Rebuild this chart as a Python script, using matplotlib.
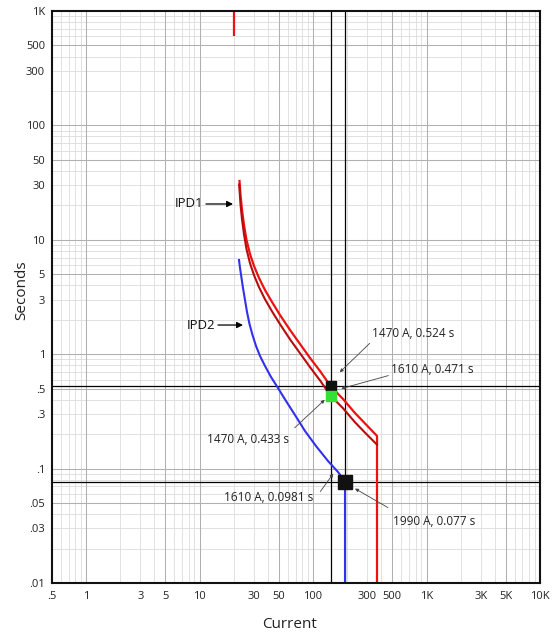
import numpy as np
import matplotlib
matplotlib.use("Agg")
import matplotlib.pyplot as plt
from matplotlib import transforms as mtrans
from matplotlib.ticker import FixedLocator, FixedFormatter, NullLocator

plt.rcParams['font.family'] = ['Open Sans', 'DejaVu Sans']

# ---------------- data ----------------
x_ticks = [0.5, 1, 3, 5, 10, 30, 50, 100, 300, 500, 1000, 3000, 5000, 10000]
x_ticklabels = ['.5', '1', '3', '5', '10', '30', '50', '100', '300', '500', '1K', '3K', '5K', '10K']
y_ticks = [1000, 500, 300, 100, 50, 30, 10, 5, 3, 1, 0.5, 0.3, 0.1, 0.05, 0.03, 0.01]
y_ticklabels = ['1K', '500', '300', '100', '50', '30', '10', '5', '3', '1', '.5', '.3', '.1', '.05', '.03', '.01']

# IPD1 (red band): upper and lower curves
ipd1_upper_current = [22.47, 22.93, 23.64, 24.61, 25.90, 27.81, 30.16, 33.38, 37.70, 43.45,
                      51.11, 62.59, 76.7, 94.0, 115.1, 143, 183.5, 234.2, 292.7, 366]
ipd1_upper_time = [32.7, 24.65, 18.22, 13.47, 9.96, 7.51, 5.90, 4.64, 3.64, 2.86,
                   2.20, 1.63, 1.228, 0.927, 0.713, 0.524, 0.406, 0.306, 0.243, 0.193]
ipd1_lower_current = [22.3, 22.93, 23.64, 24.61, 25.90, 27.81, 30.16, 33.38, 37.70, 43.45,
                      51.11, 62.59, 76.7, 94.0, 115.1, 143, 183.5, 234.2, 292.7, 366]
ipd1_lower_time = [30.5, 20.4, 15.1, 11.2, 8.27, 6.23, 4.90, 3.85, 3.02, 2.37,
                   1.83, 1.35, 1.02, 0.77, 0.59, 0.433, 0.337, 0.254, 0.202, 0.162]
ipd1_top_current = [20.1, 20.1]
ipd1_top_time = [1000, 610]

# IPD2 (blue)
ipd2_current = [22.24, 22.70, 23.40, 24.12, 25.12, 26.16, 27.52, 29.25, 31.41, 34.07,
                37.70, 42.58, 49.09, 57.72, 69.30, 84.89, 106.1, 135.4, 165.9, 191.1]
ipd2_time = [6.66, 5.67, 4.64, 3.79, 2.98, 2.34, 1.837, 1.472, 1.18, 0.964,
             0.789, 0.632, 0.506, 0.390, 0.294, 0.213, 0.1576, 0.1165, 0.0934, 0.077]

# cross-hair lines
vline_current = [143, 191]
hline_time = [0.524, 0.077]

# square markers
marker_current = [143, 143, 191]
marker_time = [0.524, 0.433, 0.077]
marker_color = ['#111111', '#33e033', '#111111']
marker_size = [7, 7, 9.5]

# annotations
ann_current = [143, 157, 143, 157, 191]
ann_time = [0.524, 0.471, 0.433, 0.0981, 0.077]
ann_text = ['1470 A, 0.524 s', '1610 A, 0.471 s', '1470 A, 0.433 s',
            '1610 A, 0.0981 s', '1990 A, 0.077 s']

# ---------------- figure ----------------
W, H, DPI = 553, 635, 100
fig = plt.figure(figsize=(W / DPI, H / DPI), dpi=DPI)
L, R, T, B = 52, 540, 11, 583
ax = fig.add_axes([L / W, 1 - B / H, (R - L) / W, (B - T) / H])
ax.set_xscale('log')
ax.set_yscale('log')
xmin, xmax = 0.5, 10000
ymin, ymax = 0.01, 1000
ax.set_xlim(xmin, xmax)
ax.set_ylim(ymin, ymax)

# grid (manual)
for dec in range(-1, 5):
    for m in range(1, 10):
        v = m * 10.0 ** dec
        if xmin < v < xmax:
            if m in (1, 5):
                ax.axvline(v, color='#b0b0b0', lw=0.75, zorder=0.5)
            else:
                ax.axvline(v, color='#dcdcdc', lw=0.6, zorder=0.4)
for dec in range(-2, 3):
    for m in range(1, 10):
        v = m * 10.0 ** dec
        if ymin < v < ymax:
            if m in (1, 5):
                ax.axhline(v, color='#b0b0b0', lw=0.75, zorder=0.5)
            else:
                ax.axhline(v, color='#dcdcdc', lw=0.6, zorder=0.4)

# cross-hairs
for c in vline_current:
    ax.axvline(c, color='black', lw=0.9, zorder=1)
for t in hline_time:
    ax.axhline(t, color='black', lw=0.9, zorder=1)

# curves
red = '#ee1111'
dark_red = '#b80c0c'
ax.plot(ipd1_top_current, ipd1_top_time, color=red, lw=1.6, zorder=3, solid_capstyle='butt')
ax.plot(ipd1_upper_current + [ipd1_upper_current[-1]], ipd1_upper_time + [ymin],
        color=red, lw=1.6, zorder=3)
ax.plot(ipd1_lower_current, ipd1_lower_time, color=dark_red, lw=1.5, zorder=3)
ax.plot(ipd2_current + [ipd2_current[-1]], ipd2_time + [ymin],
        color='#3030ee', lw=1.5, zorder=3)

# markers
for c, t, col, s in zip(marker_current, marker_time, marker_color, marker_size):
    ax.plot([c], [t], marker='s', ms=s, color=col, mec=col, zorder=5, linestyle='none')

# annotations: (text offset, text align, arrow start offset, arrow tip offset), in pixels
ann_style = [
    ((41, 53), 'left', (39, 43), (9, 14)),
    ((56, 22), 'left', (53, 16), (6, 3)),
    ((-42, -44), 'right', (-36, -32), (-6, -4)),
    ((-22, -28), 'right', (-15, -22), (-2, -4)),
    ((48, -40), 'left', (43, -26), (10, -7)),
]
for c, t, txt, (toff, ha, soff, tip) in zip(ann_current, ann_time, ann_text, ann_style):
    ax.annotate(txt, xy=(c, t), xytext=toff, textcoords='offset pixels',
                ha=ha, va='center', fontsize=8.5, color='#222222', zorder=6)
    tip_tr = mtrans.offset_copy(ax.transData, fig=fig, x=tip[0], y=tip[1], units='dots')
    st_tr = mtrans.offset_copy(ax.transData, fig=fig, x=soff[0], y=soff[1], units='dots')
    ax.annotate('', xy=(c, t), xycoords=tip_tr, xytext=(c, t), textcoords=st_tr,
                arrowprops=dict(arrowstyle='-|>', color='#444444', lw=0.6,
                                mutation_scale=5, shrinkA=0, shrinkB=0), zorder=6)

# IPD labels
for name, txy, tip in [('IPD1', (0.3094, 0.6626), (0.371, 0.6626)),
                       ('IPD2', (0.334, 0.451), (0.3914, 0.451))]:
    ax.text(txy[0], txy[1], name, transform=ax.transAxes, ha='right', va='center',
            fontsize=9.5, color='#111111', zorder=6)
    ax.annotate('', xy=tip, xycoords='axes fraction',
                xytext=(txy[0] + 0.006, txy[1]), textcoords='axes fraction',
                arrowprops=dict(arrowstyle='-|>', color='black', lw=0.9,
                                mutation_scale=9, shrinkA=0, shrinkB=0), zorder=6)

# ticks
ax.xaxis.set_major_locator(FixedLocator(x_ticks))
ax.xaxis.set_major_formatter(FixedFormatter(x_ticklabels))
ax.xaxis.set_minor_locator(NullLocator())
ax.yaxis.set_major_locator(FixedLocator(y_ticks))
ax.yaxis.set_major_formatter(FixedFormatter(y_ticklabels))
ax.yaxis.set_minor_locator(NullLocator())
ax.tick_params(axis='both', which='both', length=0, labelsize=8, colors='#222222')
ax.tick_params(axis='x', pad=6)
ax.tick_params(axis='y', pad=5)

for s in ax.spines.values():
    s.set_linewidth(1.5)
    s.set_color('#111111')
    s.set_zorder(4)

ax.set_xlabel('Current', fontsize=11, color='#222222')
ax.set_ylabel('Seconds', fontsize=11, color='#222222')
ax.xaxis.set_label_coords(0.4877, -0.0734)
ax.xaxis.label.set_va('center')
ax.yaxis.set_label_coords(-0.0615, 0.512)
ax.yaxis.label.set_va('center')

fig.savefig('out.png', dpi=DPI)
